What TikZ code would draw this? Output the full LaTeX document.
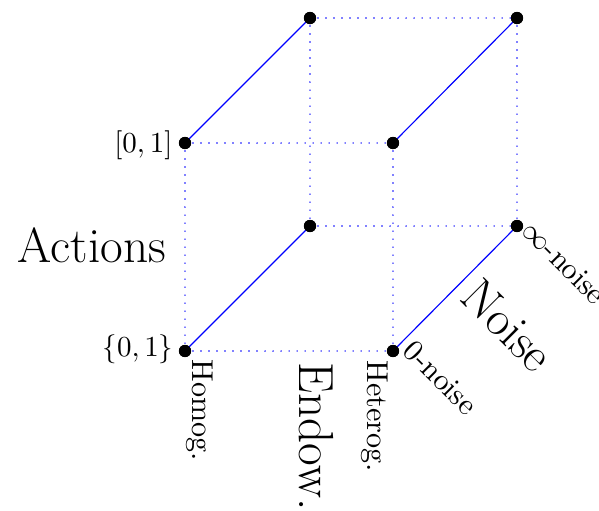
\documentclass[tikz,border=0pt]{standalone}
\begin{document}
\begin{tikzpicture}[x=0.3448pt,y=-0.3448pt,
  vdot/.style={circle,fill=black,inner sep=0pt,minimum size=4.2pt},
  depth/.style={blue,line width=0.4pt},
  edge/.style={blue,line width=0.55pt,line cap=round,dash pattern=on 0pt off 2.76pt},
  lbl/.style={inner sep=0pt,font=\fontsize{10.4}{12.5}\selectfont},
  big/.style={inner sep=0pt,font=\fontsize{17}{20}\selectfont}]
\useasboundingbox (0,0) rectangle (599,511);
% front face
\node[vdot] (A) at (185,143) {};
\node[vdot] (B) at (393,143) {};
\node[vdot] (C) at (185,351) {};
\node[vdot] (D) at (393,351) {};
% back face
\node[vdot] (E) at (310,18) {};
\node[vdot] (F) at (517,18) {};
\node[vdot] (G) at (310,226) {};
\node[vdot] (H) at (517,226) {};
% dotted edges
\draw[edge] (E.center) -- (F.center);
\draw[edge] (E.center) -- (G.center);
\draw[edge] (F.center) -- (H.center);
\draw[edge] (G.center) -- (H.center);
\draw[edge] (A.center) -- (B.center);
\draw[edge] (A.center) -- (C.center);
\draw[edge] (B.center) -- (D.center);
\draw[edge] (C.center) -- (D.center);
% depth edges
\draw[depth] (A.center) -- (E.center);
\draw[depth] (B.center) -- (F.center);
\draw[depth] (C.center) -- (G.center);
\draw[depth] (D.center) -- (H.center);
% redraw dots on top
\foreach \n in {A,B,C,D,E,F,G,H} \fill (\n) circle (2.1pt);
% labels
\node[lbl,anchor=base east] (l01) at (173,152) {$[0,1]$};
\node[lbl,anchor=base east] (l02) at (174,356) {$\{0,1\}$};
\node[big,anchor=base] (act) at (92,262) {Actions};
\node[lbl,rotate=-90,anchor=base west] (hom) at (193,359) {Homog.};
\node[lbl,rotate=-90,anchor=base west] (het) at (368,360) {Heterog.};
\node[big,rotate=-90,anchor=base west] (end) at (300,362) {Endow.};
\node[lbl,rotate=-45,anchor=base west] (zn) at (401,352) {0-noise};
\node[lbl,rotate=-45,anchor=base west] (inf) at (520,232) {$\infty$-noise};
\node[big,rotate=-45,anchor=base west] (noi) at (458,299) {Noise};
\end{tikzpicture}
\end{document}
